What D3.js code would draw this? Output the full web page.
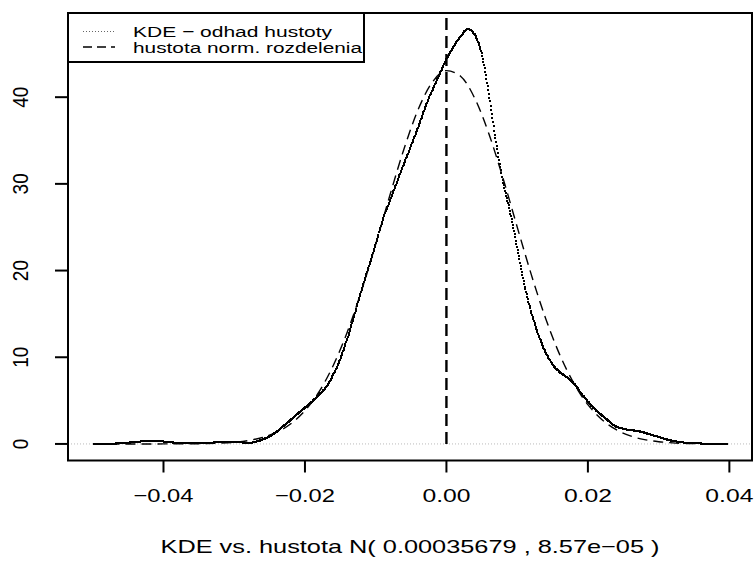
<!DOCTYPE html>
<html>
<head>
<meta charset="utf-8">
<script src="https://cdn.jsdelivr.net/npm/d3@7"></script>
<style>
  html, body { margin: 0; padding: 0; background: #fff; }
  svg text { font-family: "Liberation Sans", Arial, Helvetica, sans-serif; fill: #000; }
</style>
</head>
<body>
<svg id="chart" width="754" height="574"></svg>
<script>
// Kernel density estimate of the returns
const kdeX = [-0.0499, -0.048, -0.046, -0.044, -0.042, -0.040, -0.038, -0.036, -0.034, -0.032,
  -0.030, -0.028, -0.027, -0.026, -0.025, -0.024, -0.023, -0.022, -0.021, -0.020, -0.019,
  -0.018, -0.017, -0.016, -0.015, -0.014, -0.013, -0.012, -0.011, -0.010, -0.009, -0.008,
  -0.007, -0.006, -0.005, -0.004, -0.003, -0.002, -0.001, 0.000, 0.001, 0.002, 0.003,
  0.004, 0.005, 0.006, 0.007, 0.008, 0.009, 0.010, 0.011, 0.012, 0.013, 0.014, 0.015,
  0.016, 0.017, 0.018, 0.019, 0.020, 0.021, 0.022, 0.023, 0.024, 0.025, 0.026, 0.027,
  0.028, 0.029, 0.030, 0.031, 0.032, 0.033, 0.034, 0.035, 0.036, 0.038, 0.0396];
const kdeY = [0.0, 0.02, 0.08, 0.22, 0.35, 0.28, 0.12, 0.06, 0.10, 0.22,
  0.25, 0.12, 0.25, 0.5, 0.9, 1.4, 2.1, 2.8, 3.5, 4.2, 4.9,
  5.7, 6.6, 8.0, 9.8, 12.2, 14.9, 17.7, 20.4, 23.0, 25.9, 28.0,
  30.2, 32.3, 34.4, 36.5, 38.8, 40.8, 42.6, 44.4, 45.8, 47.0, 47.85,
  47.2, 45.0, 40.4, 34.9, 30.3, 26.8, 22.7, 18.5, 15.2, 12.6, 10.6, 9.2,
  8.3, 7.7, 7.0, 5.9, 4.9, 4.0, 3.3, 2.6, 2.0, 1.75, 1.6, 1.5,
  1.3, 1.05, 0.8, 0.55, 0.35, 0.22, 0.13, 0.08, 0.05, 0.02, 0.005];

// Normal density N(0.00035679, 8.57e-05) on the same range
const normX = [-0.0499, -0.048, -0.046, -0.044, -0.042, -0.040, -0.038, -0.036, -0.034, -0.032,
  -0.030, -0.028, -0.026, -0.024, -0.022, -0.020, -0.018, -0.016, -0.014, -0.012,
  -0.010, -0.008, -0.006, -0.004, -0.002, 0.000, 0.002, 0.004, 0.006, 0.008,
  0.010, 0.012, 0.014, 0.016, 0.018, 0.020, 0.022, 0.024, 0.026, 0.028,
  0.030, 0.032, 0.034, 0.036, 0.038, 0.0396];
const normY = [0.0, 0.0, 0.0, 0.0, 0.001, 0.003, 0.007, 0.018, 0.044, 0.096,
  0.199, 0.395, 0.748, 1.354, 2.331, 3.84, 6.03, 9.05, 12.94, 17.68,
  23.04, 28.66, 34.03, 38.57, 41.72, 43.06, 42.42, 39.88, 35.78, 30.65,
  25.04, 19.53, 14.54, 10.33, 7.01, 4.53, 2.80, 1.65, 0.93, 0.50,
  0.26, 0.125, 0.058, 0.025, 0.010, 0.005];

const xTicks = [-0.04, -0.02, 0.00, 0.02, 0.04];
const xTickLabels = ["\u22120.04", "\u22120.02", "0.00", "0.02", "0.04"];
const yTicks = [0, 10, 20, 30, 40];
const yTickLabels = ["0", "10", "20", "30", "40"];
const legendLabels = ["KDE \u2212 odhad hustoty", "hustota norm. rozdelenia"];
const titleText = "KDE vs. hustota N( 0.00035679 , 8.57e\u221205 )";
const markerTop = 49.2;   // upper end of the reference segment at x = 0

const svg = d3.select("#chart");
const W = 754, H = 574;
const box = { left: 68, right: 752, top: 13, bottom: 460.5 };

const x = d3.scaleLinear().domain([-0.0535, 0.0432]).range([box.left, box.right]);
const y = d3.scaleLinear().domain([-1.91, 49.71]).range([box.bottom, box.top]);

svg.append("rect").attr("width", W).attr("height", H).attr("fill", "#fff");

const plot = svg.append("g");

// horizontal reference at zero density
plot.append("line")
  .attr("x1", box.left).attr("x2", box.right)
  .attr("y1", y(0)).attr("y2", y(0))
  .attr("stroke", "#aaa").attr("stroke-width", 0.8)
  .attr("stroke-dasharray", "1,2");

// normal density, dashed
const normLine = d3.line().x((d, i) => x(normX[i])).y(d => y(d)).curve(d3.curveMonotoneX);
plot.append("path")
  .attr("d", normLine(normY))
  .attr("fill", "none").attr("stroke", "#000").attr("stroke-width", 1.4)
  .attr("stroke-dasharray", "10,6");

// KDE drawn as a trail of small points taken at even x steps along the curve
const kdeLine = d3.line().x((d, i) => x(kdeX[i])).y(d => y(d)).curve(d3.curveMonotoneX);
const guide = plot.append("path").attr("d", kdeLine(kdeY))
  .attr("fill", "none").attr("stroke", "none");
const node = guide.node();
const total = node.getTotalLength();
const step = 0.6;
const pts = [];
let nextX = x(kdeX[0]);
for (let s = 0; s <= total; s += 0.15) {
  const p = node.getPointAtLength(s);
  if (p.x >= nextX) { pts.push([p.x, p.y]); nextX += step; }
}
plot.append("g").selectAll("rect").data(pts).join("rect")
  .attr("x", d => Math.round(d[0]) - 1).attr("y", d => Math.round(d[1]) - 1)
  .attr("width", 2).attr("height", 2).attr("fill", "#000");

// vertical dashed marker at x = 0
plot.append("line")
  .attr("x1", x(0)).attr("x2", x(0))
  .attr("y1", y(0)).attr("y2", y(markerTop))
  .attr("stroke", "#000").attr("stroke-width", 2.4)
  .attr("stroke-dasharray", "12,6");

// frame
svg.append("rect")
  .attr("x", box.left).attr("y", box.top)
  .attr("width", box.right - box.left).attr("height", box.bottom - box.top)
  .attr("fill", "none").attr("stroke", "#000").attr("stroke-width", 2);

// x axis
const xAxis = svg.append("g");
xAxis.selectAll("line").data(xTicks).join("line")
  .attr("x1", d => x(d)).attr("x2", d => x(d))
  .attr("y1", box.bottom).attr("y2", box.bottom + 12)
  .attr("stroke", "#000").attr("stroke-width", 2);
xAxis.selectAll("text").data(xTicks).join("text")
  .attr("x", d => x(d)).attr("y", 502)
  .attr("text-anchor", "middle").attr("font-size", 19)
  .attr("textLength", (d, i) => xTickLabels[i].startsWith("\u2212") ? 60 : 48)
  .attr("lengthAdjust", "spacingAndGlyphs")
  .text((d, i) => xTickLabels[i]);

// y axis
const yAxis = svg.append("g");
yAxis.selectAll("line").data(yTicks).join("line")
  .attr("x1", box.left - 13).attr("x2", box.left)
  .attr("y1", d => y(d)).attr("y2", d => y(d))
  .attr("stroke", "#000").attr("stroke-width", 2);
yAxis.selectAll("text").data(yTicks).join("text")
  .attr("transform", d => `translate(28,${y(d)}) rotate(-90) scale(1,1.15)`)
  .attr("text-anchor", "middle").attr("font-size", 19)
  .text((d, i) => yTickLabels[i]);

// title below the axis
svg.append("text")
  .attr("x", (box.left + box.right) / 2).attr("y", 553)
  .attr("text-anchor", "middle").attr("font-size", 19)
  .attr("textLength", 499).attr("lengthAdjust", "spacingAndGlyphs")
  .text(titleText);

// legend
const lg = svg.append("g");
lg.append("rect").attr("x", box.left).attr("y", box.top)
  .attr("width", 296).attr("height", 49)
  .attr("fill", "#fff").attr("stroke", "#000").attr("stroke-width", 2);
const legendRows = [
  { y: 31.5, stroke: "#666", width: 1, dash: "1,2", len: 199 },
  { y: 47, stroke: "#000", width: 1.3, dash: "9,5", len: 229 }
];
legendRows.forEach((r, i) => {
  lg.append("line").attr("x1", 83).attr("x2", 115).attr("y1", r.y).attr("y2", r.y)
    .attr("stroke", r.stroke).attr("stroke-width", r.width).attr("stroke-dasharray", r.dash);
  lg.append("text").attr("x", 133).attr("y", r.y + 5.5)
    .attr("font-size", 15.5)
    .attr("textLength", r.len).attr("lengthAdjust", "spacingAndGlyphs")
    .text(legendLabels[i]);
});
</script>
</body>
</html>
